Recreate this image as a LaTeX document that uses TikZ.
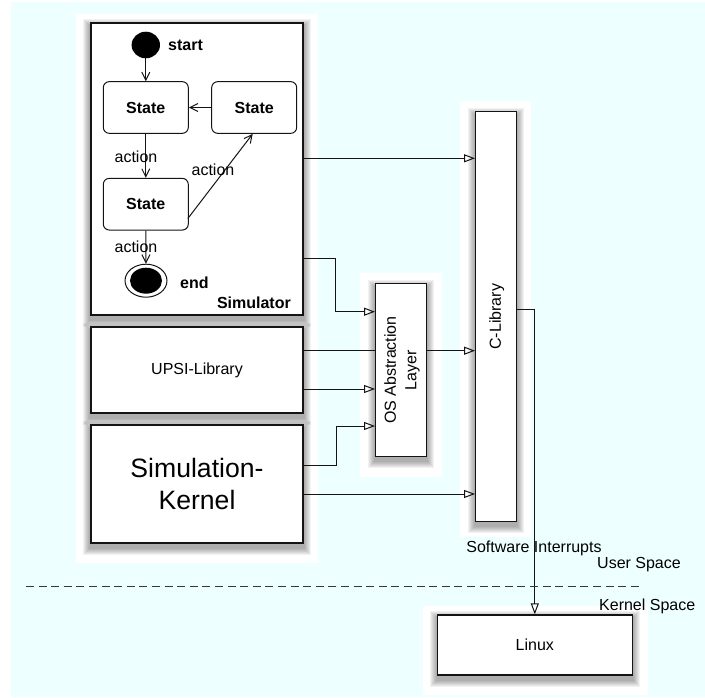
\documentclass[tikz,border=0pt]{standalone}
\usepackage{fontspec}
\setmainfont{Liberation Sans}
\usetikzlibrary{arrows.meta,shapes.geometric}
\pgfdeclarelayer{bottom}
\pgfdeclarelayer{background}
\pgfsetlayers{bottom,background,main}
\definecolor{paleaqua}{RGB}{238,255,255}
\definecolor{ink}{RGB}{20,20,20}

\begin{document}
\begin{tikzpicture}[x=1pt,y=-1pt,
  font=\fontsize{16}{19}\selectfont,
  box/.style={draw=ink, line width=1.3pt, fill=white, inner sep=0pt, align=center},
  statebox/.style={draw=ink, line width=1pt, rounded corners=6pt, fill=white,
    minimum width=85pt, minimum height=51.7pt, inner sep=0pt,
    font=\fontsize{16}{19}\selectfont\bfseries},
  flow/.style={draw=ink, line width=1pt, -{Triangle[open,length=11pt,width=8pt]}},
  trans/.style={draw=ink, line width=1pt, -{Straight Barb[length=8pt,width=8pt]}},
  lbl/.style={inner sep=0pt},
  bold/.style={inner sep=0pt, font=\fontsize{16}{19}\selectfont\bfseries},
]
\useasboundingbox (0,0) rectangle (705,698);

% backdrop and white mats behind the block groups
\begin{pgfonlayer}{bottom}
  \fill[white] (0,0) rectangle (705,698);
  \fill[paleaqua] (11,2) rectangle (705,697);
  \fill[white] (76,14) rectangle (318,563);
  \fill[white] (360,273) rectangle (442,477);
  \fill[white] (460,101) rectangle (531,537);
  \fill[white] (423,606) rectangle (648,695);
\end{pgfonlayer}

% outer blocks
\node[box, minimum width=212pt, minimum height=292pt] (sim) at (197,169) {};
\node[box, minimum width=212pt, minimum height=86pt] (upsi) at (197,370) {UPSI-Library};
\node[box, minimum width=212pt, minimum height=118pt,
      font=\fontsize{26.6}{32}\selectfont] (kernel) at (197,484) {Simulation-\\Kernel};
\node[box, minimum width=51pt, minimum height=173.4pt] (os) at (401.2,370) {};
\node[lbl, rotate=90, align=center, font=\fontsize{16}{20.5}\selectfont] (ostext) at (402,370) {OS Abstraction\\Layer};
\node[box, minimum width=40.6pt, minimum height=410pt] (clib) at (496,316.7) {};
\node[lbl, rotate=90] (clibtext) at (496.7,316.7) {C-Library};
\node[box, minimum width=195pt, minimum height=60pt] (linux) at (534.8,645) {Linux};

% soft drop shadows under the blocks
\begin{pgfonlayer}{background}
  \foreach \n in {sim,upsi,kernel,os,clib,linux}
    \foreach \k in {1,...,7}
      \fill[black, opacity=0.05]
        ([xshift=-\k pt, yshift=-4pt-\k pt]\n.south west) rectangle
        ([xshift=\k pt, yshift=-4pt+\k pt]\n.north east);
\end{pgfonlayer}

% state machine inside the simulator
\node[ellipse, fill=black, minimum width=28.4pt, minimum height=26.6pt, inner sep=0pt] (start) at (145.8,45) {};
\node[bold, anchor=west] (startlbl) at (168,45) {start};
\node[statebox] (s1) at (145.8,107.5) {State};
\node[statebox] (s2) at (254.2,107.5) {State};
\node[statebox] (s3) at (145.8,204.2) {State};
\node[ellipse, draw=ink, line width=1pt, fill=white, minimum width=42pt, minimum height=33pt, inner sep=0pt] (endo) at (146,280.7) {};
\node[ellipse, fill=black, minimum width=32pt, minimum height=26pt, inner sep=0pt] (endi) at (146,280.7) {};
\node[bold, anchor=west] (endlbl) at (180,282.7) {end};
\node[bold, anchor=east] (simlbl) at (291,303) {Simulator};

\draw[trans] (start) -- (s1);
\draw[trans] (s2) -- (s1);
\draw[trans] (s1) -- (s3);
\draw[trans] ([xshift=-1pt,yshift=12pt]s3.south east) -- ([xshift=-1.5pt]s2.south);
\draw[trans] (s3) -- (endo);
\node[lbl] (act1) at (136,157) {action};
\node[lbl] (act2) at (213,170) {action};
\node[lbl] (act3) at (136,247) {action};

% data flow between the blocks
\begin{pgfonlayer}{background}
  \draw[flow] (sim.east |- 0,158.3) -- (clib.west |- 0,158.3);
  \draw[flow] (sim.east |- 0,258.3) -- (335,258.3) |- (os.west |- 0,311.7);
  \draw[flow] (upsi.east |- 0,350.7) -- (clib.west |- 0,350.7);
  \draw[flow] (upsi.east |- 0,389) -- (os.west |- 0,389);
  \draw[flow] (kernel.east |- 0,465.7) -- (336.7,465.7) |- (os.west |- 0,426);
  \draw[flow] (kernel.east |- 0,494) -- (clib.west |- 0,494);
  \draw[flow] (clib.east |- 0,309) -| (linux.north);
\end{pgfonlayer}

% user / kernel boundary
\draw[ink!85, line width=1pt, dash pattern=on 8pt off 4.6pt] (26,586.7) coordinate (sepl) -- (643,586.7) coordinate (sepr);
\node[lbl] (swi) at (534,548.3) {Software Interrupts};
\node[lbl, anchor=west] (user) at (597,565) {User Space};
\node[lbl, anchor=west] (kern) at (599,606.7) {Kernel Space};
\end{tikzpicture}
\end{document}
